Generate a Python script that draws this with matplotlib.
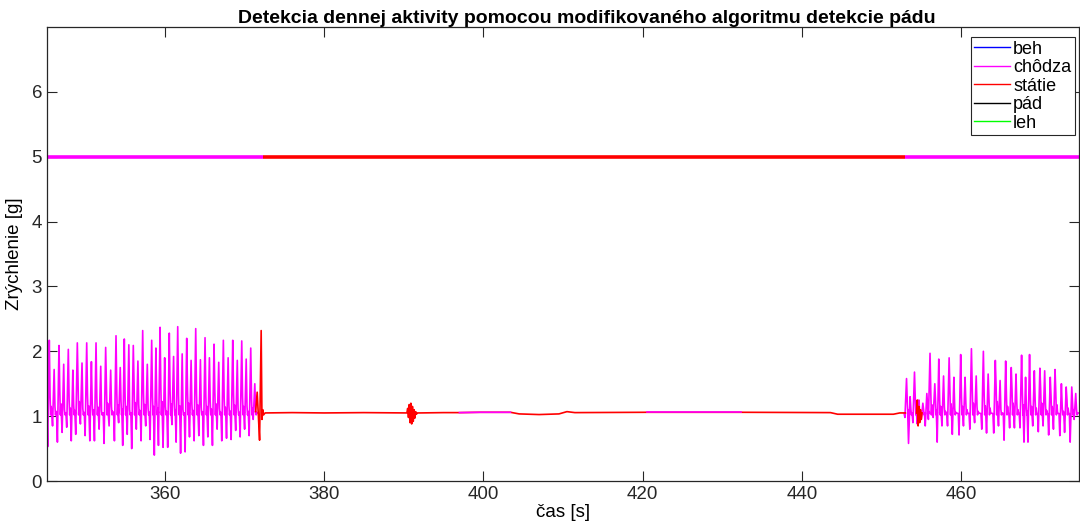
import numpy as np
import matplotlib
matplotlib.use("Agg")
import matplotlib.pyplot as plt
from matplotlib.lines import Line2D

plt.rcParams['font.family'] = ['Liberation Sans', 'DejaVu Sans']

# walking segment 1: step peak times, peak values, trough before the peak,
# and the small hump after each peak
walk1_t = [345.49, 346.10, 346.71, 347.30, 347.88, 348.45, 349.01, 349.60, 350.19, 350.78,
           351.36, 351.95, 352.57, 353.20, 353.87, 354.40, 354.91, 355.48, 356.04, 356.62,
           357.22, 357.80, 358.35, 358.88, 359.40, 359.98, 360.56, 361.10, 361.62, 362.18,
           362.75, 363.30, 363.88, 364.47, 365.05, 365.60, 366.18, 366.77, 367.35, 367.95,
           368.53, 369.10, 369.66, 370.22, 370.79, 371.30]
walk1_pk = [2.17, 1.72, 2.09, 1.80, 2.03, 1.71, 2.13, 1.82, 2.13, 1.84,
            2.13, 1.77, 2.06, 1.71, 2.24, 1.75, 2.19, 2.10, 2.09, 1.85,
            2.32, 1.80, 2.17, 2.05, 2.37, 1.90, 2.28, 1.92, 2.38, 1.96,
            2.20, 1.86, 2.35, 1.87, 2.21, 1.90, 2.11, 1.83, 2.17, 1.90,
            2.17, 1.86, 2.16, 1.88, 2.05, 1.50]
walk1_tr = [0.53, 0.85, 0.60, 0.75, 0.83, 0.62, 0.72, 0.88, 0.70, 0.62,
            0.62, 0.80, 0.58, 0.85, 0.62, 0.90, 0.55, 0.72, 0.50, 0.80,
            0.62, 0.85, 0.64, 0.40, 0.55, 0.52, 0.52, 0.87, 0.60, 0.43,
            0.45, 0.68, 0.62, 0.70, 0.55, 0.68, 0.55, 0.80, 0.62, 0.66,
            0.64, 0.78, 0.68, 0.80, 0.70, 0.95]
walk1_hm = [1.30, 1.15, 1.38, 1.10, 1.25, 1.18, 1.45, 1.12, 1.32, 1.20,
            1.28, 1.08, 1.40, 1.15, 1.35, 1.22, 1.30, 1.10, 1.42, 1.18,
            1.36, 1.12, 1.30, 1.25, 1.45, 1.15, 1.38, 1.20, 1.32, 1.10,
            1.40, 1.18, 1.35, 1.14, 1.30, 1.22, 1.38, 1.12, 1.28, 1.16,
            1.34, 1.12, 1.30, 1.15, 1.25, 1.10]

# walking segment 2
walk2_t = [453.15, 453.60, 454.15, 454.70, 455.20, 455.70, 456.10, 456.70, 457.20, 457.80,
           458.50, 459.10, 459.95, 460.50, 461.30, 461.90, 462.80, 463.40, 464.30, 464.90,
           465.60, 466.30, 466.90, 467.60, 468.10, 468.60, 469.20, 469.90, 470.50, 471.20,
           471.80, 472.60, 473.20, 473.90, 474.40]
walk2_pk = [1.58, 1.30, 1.68, 1.25, 1.20, 1.35, 1.97, 1.50, 1.88, 1.62,
            1.90, 1.60, 1.95, 1.60, 2.04, 1.62, 2.00, 1.65, 1.86, 1.55,
            1.85, 1.75, 1.65, 1.94, 1.60, 1.95, 1.70, 1.74, 1.70, 1.60,
            1.72, 1.50, 1.45, 1.45, 1.35]
walk2_tr = [0.98, 0.58, 0.90, 0.88, 0.95, 0.85, 0.95, 0.98, 0.60, 0.85,
            0.85, 0.72, 0.71, 0.85, 0.80, 0.90, 0.80, 0.74, 0.74, 0.85,
            0.63, 0.82, 0.82, 0.82, 0.60, 0.60, 0.85, 0.76, 0.85, 0.71,
            0.80, 0.70, 0.75, 0.60, 0.95]
walk2_hm = [1.20, 1.10, 1.25, 1.05, 1.10, 1.15, 1.35, 1.20, 1.30, 1.15,
            1.38, 1.12, 1.30, 1.20, 1.40, 1.15, 1.32, 1.25, 1.45, 1.10,
            1.30, 1.40, 1.20, 1.35, 1.15, 1.30, 1.25, 1.40, 1.18, 1.30,
            1.35, 1.15, 1.25, 1.20, 1.10]

# standing segment (red), with the magenta-classified stretches
stand_t = [371.40, 371.60, 371.75, 371.90, 372.10, 372.20, 372.30, 372.40, 372.60, 376.0,
           380.0, 385.0, 390.4, 390.5, 390.6, 390.7, 390.8, 390.9, 391.0, 391.1,
           391.2, 391.3, 391.4, 391.5, 391.6, 391.7, 392.0, 395.0, 397.0, 399.6,
           403.4, 404.5, 407.0, 409.5, 410.5, 411.5, 420.6, 426.0, 432.3, 443.6,
           444.5, 451.5, 452.3, 453.0]
stand_v = [1.07, 1.37, 1.00, 0.63, 2.32, 0.95, 1.10, 1.02, 1.05, 1.055,
           1.05, 1.055, 1.05, 1.12, 0.98, 1.18, 0.90, 1.20, 0.88, 1.15,
           0.92, 1.10, 0.97, 1.07, 1.03, 1.05, 1.05, 1.055, 1.055, 1.06,
           1.06, 1.035, 1.025, 1.035, 1.07, 1.055, 1.06, 1.06, 1.06, 1.055,
           1.03, 1.03, 1.05, 1.05]
magenta_spans = [(397.0, 403.4), (420.6, 432.3)]

noise2_t = [454.4, 454.5, 454.6, 454.7, 454.8, 454.9, 455.0, 455.1]
noise2_v = [1.05, 1.25, 0.85, 1.15, 0.90, 1.10, 0.95, 1.05]

# classification line at y = 5
state_t = [345.2, 372.3, 453.0, 474.8]
state_c = ['#ff00ff', '#ff0000', '#ff00ff']
state_level = 5

MAG = '#ff00ff'
RED = '#ff0000'


def step_path(ts, pks, trs, hms):
    x, y = [], []
    for t, p, tr, h in zip(ts, pks, trs, hms):
        x += [t - 0.30, t - 0.20, t, t + 0.10, t + 0.17, t + 0.24, t + 0.32]
        y += [1.04, tr, p, h, 1.02, (h + 1.0) / 2, 1.05]
    return x, y


fig = plt.figure(figsize=(10.8, 5.29), dpi=100)
ax = fig.add_axes([0.0435, 0.0907, 0.9555, 0.858])

x1, y1 = step_path(walk1_t, walk1_pk, walk1_tr, walk1_hm)
ax.plot(x1 + [371.40], y1 + [1.07], color=MAG, lw=1.2)
x2, y2 = step_path(walk2_t, walk2_pk, walk2_tr, walk2_hm)
ax.plot([453.0] + x2, [1.05] + y2, color=MAG, lw=1.2)

st = np.array(stand_t)
sv = np.array(stand_v)
ax.plot(st, sv, color=RED, lw=1.2)
for a, b in magenta_spans:
    m = (st >= a) & (st <= b)
    ax.plot(st[m], sv[m], color=MAG, lw=1.2)
ax.plot(noise2_t, noise2_v, color=RED, lw=1.2)

for i, c in enumerate(state_c):
    ax.plot([state_t[i], state_t[i + 1]], [state_level, state_level], color=c, lw=2.6,
            solid_capstyle='butt')

handles = [Line2D([], [], color='#0000ff', lw=1),
           Line2D([], [], color=MAG, lw=1),
           Line2D([], [], color=RED, lw=1),
           Line2D([], [], color='#000000', lw=1),
           Line2D([], [], color='#00ff00', lw=1)]
labels = ['beh', 'chôdza', 'státie', 'pád', 'leh']
leg = ax.legend(handles, labels, loc='upper right', bbox_to_anchor=(0.996, 0.978),
                borderaxespad=0, fontsize=13, handlelength=2.0, handletextpad=0.15,
                labelspacing=0.08, borderpad=0.2, fancybox=False, framealpha=1)
leg.get_frame().set_edgecolor('#262626')
leg.get_frame().set_linewidth(0.8)

ax.set_xlim(345.2, 474.8)
ax.set_ylim(0, 7)
ax.set_xticks([360, 380, 400, 420, 440, 460])
ax.set_yticks([0, 1, 2, 3, 4, 5, 6])
ax.tick_params(direction='in', length=7, top=True, right=True, labelsize=13.5,
               color='#262626', labelcolor='#262626')
for s in ax.spines.values():
    s.set_color('#262626')
    s.set_linewidth(0.9)

ax.set_title('Detekcia dennej aktivity pomocou modifikovaného algoritmu detekcie pádu',
             fontsize=14, fontweight='bold', pad=3, x=0.523)
ax.set_xlabel('čas [s]', fontsize=13.5, labelpad=1)
ax.set_ylabel('Zrýchlenie [g]', fontsize=13.5, labelpad=6)

fig.savefig('out.png', dpi=100)
